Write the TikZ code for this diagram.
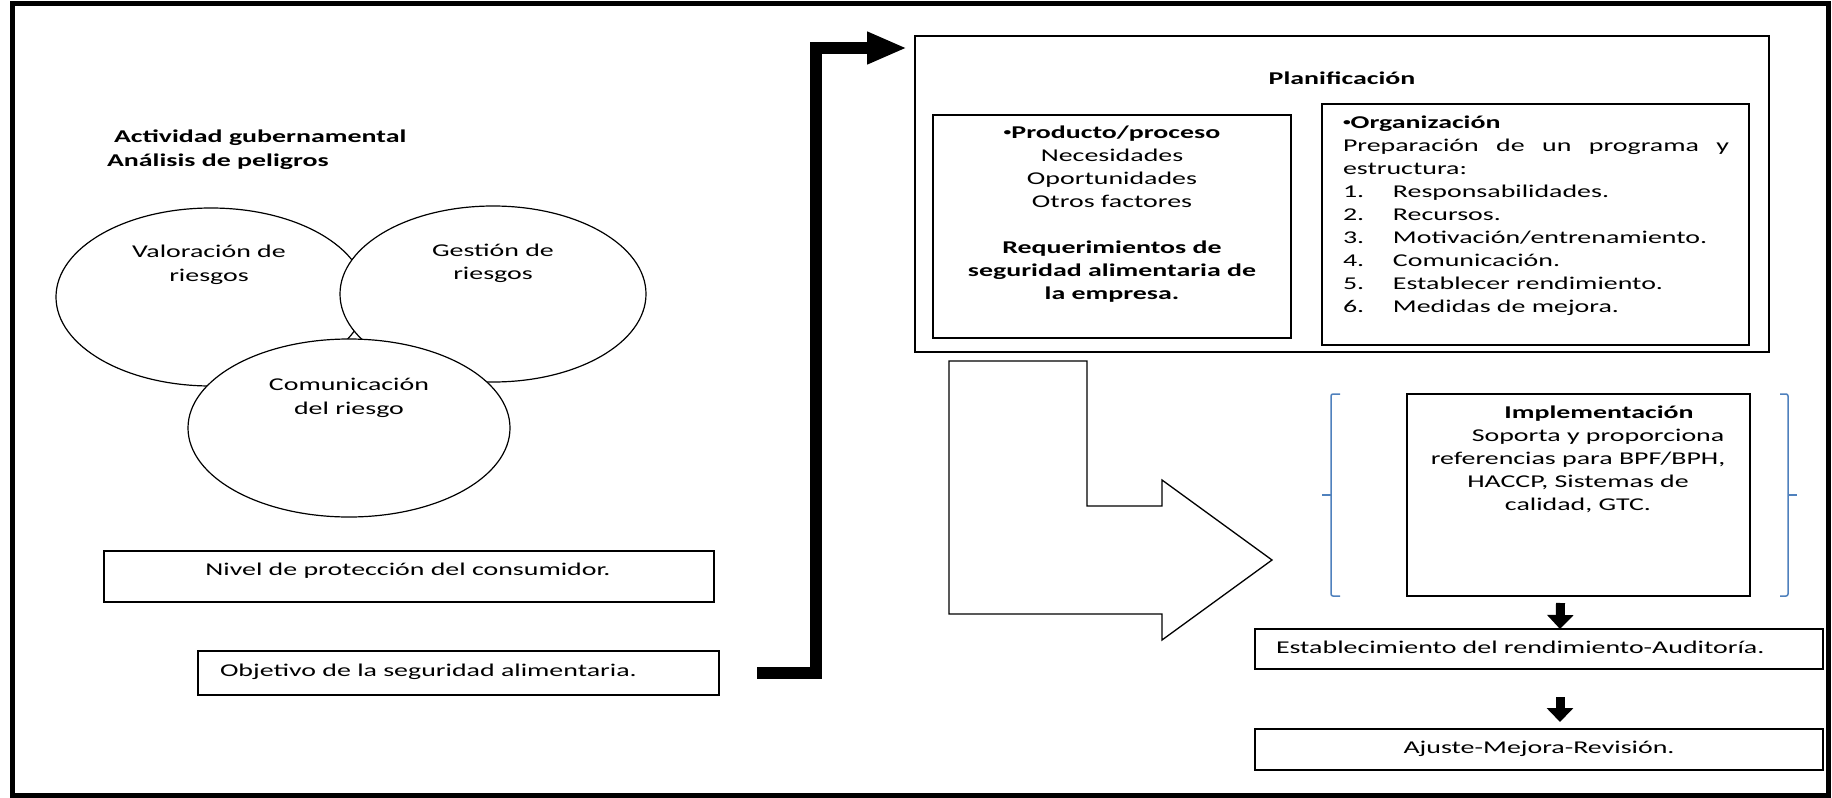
\documentclass[tikz,border=0pt]{standalone}
\usepackage{fontspec}
\setmainfont{Carlito}[FakeStretch=1.55]
\usetikzlibrary{shapes.geometric,arrows.meta,calc}
\definecolor{bracketblue}{HTML}{4F81BD}
\newcommand{\smallbullet}{\raisebox{2.6pt}{\fontsize{10}{12}\selectfont •}}
\tikzset{
  txt/.style={inner sep=0pt, outer sep=0pt, font=\fontsize{18}{23}\selectfont},
  boxed/.style={draw, line width=1.3pt, inner sep=0pt, outer sep=0pt, anchor=north west},
  circ/.style={ellipse, draw, fill=white, line width=1.2pt, inner sep=0pt},
  frame/.style={line width=5pt},
  bigarrow/.style={line width=12pt, line join=miter, -{Triangle[length=40pt,width=30pt]}},
  dnarrow/.style={line width=9pt, -{Triangle[length=14pt,width=26pt]}},
  bracket/.style={draw=bracketblue, line width=1.5pt, rounded corners=2pt}
}
\begin{document}
\begin{tikzpicture}[x=1pt, y=-1pt]
\useasboundingbox (0,0) rectangle (1832,798);
\fill[white] (0,0) rectangle (1832,798);

% outer frame
\draw[frame] (12,3) rectangle (1828,795);

% ---------- risk analysis (left part) ----------
\node[txt, anchor=north west, align=left, font=\fontsize{18}{24}\selectfont\bfseries] (titulo) at (107,126)
  {\strut\hspace*{7pt}Actividad gubernamental\\Análisis de peligros};

\node[circ, minimum width=310pt, minimum height=178pt] (valor) at (211,297) {};
\node[circ, minimum width=306pt, minimum height=176pt] (gestion) at (493,294) {};
\node[circ, minimum width=322pt, minimum height=178pt] (comun) at (349,428) {};

\node[txt, anchor=north, align=center, font=\fontsize{18}{24.5}\selectfont] (valort) at (209,240) {\strut Valoración de\\riesgos};
\node[txt, anchor=north, align=center, font=\fontsize{18}{22.5}\selectfont] (gestiont) at (493,241) {\strut Gestión de\\riesgos};
\node[txt, anchor=north, align=center, font=\fontsize{18}{24}\selectfont] (comunt) at (349,374) {\strut Comunicación\\del riesgo};

\node[boxed, minimum width=610pt, minimum height=51pt] (nivel) at (104,551) {};
\node[txt, anchor=north] (nivelt) at (408,559) {\strut Nivel de protección del consumidor.};

\node[boxed, minimum width=521pt, minimum height=44pt] (objetivo) at (198,651) {};
\node[txt, anchor=north west] (objetivot) at (220,660) {\strut Objetivo de la seguridad alimentaria.};

% ---------- planning block ----------
\node[boxed, minimum width=854pt, minimum height=316pt] (planif) at (915,36) {};
\node[txt, anchor=north, font=\fontsize{18}{23}\selectfont\bfseries] (planift) at (1342,68) {\strut Planificación};

\node[boxed, minimum width=358pt, minimum height=223pt] (producto) at (933,115) {};
\node[txt, anchor=north, align=center] (productot) at (1112,122)
  {\strut\textbf{\smallbullet Producto/proceso}\\Necesidades\\Oportunidades\\Otros factores\\[23pt]
   \textbf{Requerimientos de}\\\textbf{seguridad alimentaria de}\\\textbf{la empresa.}};

\node[boxed, minimum width=427pt, minimum height=241pt] (organiz) at (1322,104) {};
\node[txt, anchor=north west, align=left] (organizt) at (1343,112)
  {\strut\textbf{\smallbullet Organización}\\
   \makebox[386pt][s]{Preparación de un programa y}\\
   estructura:\\
   \makebox[50pt][l]{1.}Responsabilidades.\\
   \makebox[50pt][l]{2.}Recursos.\\
   \makebox[50pt][l]{3.}Motivación/entrenamiento.\\
   \makebox[50pt][l]{4.}Comunicación.\\
   \makebox[50pt][l]{5.}Establecer rendimiento.\\
   \makebox[50pt][l]{6.}Medidas de mejora.};

% thick connector from the objective to the planning block
\coordinate (codo) at (816,48);
\draw[bigarrow] ($(objetivo.east)+(38pt,0)$) -| (codo) -- ($(planif.north west)+(-8pt,-12pt)$);

% ---------- bent block arrow ----------
\draw[line width=1.3pt, line join=miter]
  (949,361) -- (1087,361) -- (1087,506) -- (1162,506) -- (1162,480) -- (1272,560)
  -- (1162,640) -- (1162,614) -- (949,614) -- cycle;

% ---------- implementation ----------
\draw[bracket] (1340,394) -- (1331,394) -- (1331,596) -- (1340,596);
\draw[bracketblue, line width=1.5pt] (1331,495) -- (1322,495);
\draw[bracket] (1780,394) -- (1788,394) -- (1788,596) -- (1780,596);
\draw[bracketblue, line width=1.5pt] (1788,495) -- (1797,495);

\node[boxed, minimum width=343pt, minimum height=202pt] (impl) at (1407,394) {};
\node[txt, anchor=north, align=center] (implt) at (1578,402)
  {\strut\hspace*{42pt}\textbf{Implementación}\\
   \hspace*{40pt}Soporta y proporciona\\
   referencias para BPF/BPH,\\
   HACCP, Sistemas de\\
   calidad, GTC.};

\node[boxed, minimum width=568pt, minimum height=40pt] (estab) at (1255,629) {};
\node[txt, anchor=north west] (estabt) at (1276,637) {\strut Establecimiento del rendimiento-Auditoría.};

\node[boxed, minimum width=568pt, minimum height=41pt] (ajuste) at (1255,729) {};
\node[txt, anchor=north] (ajustet) at (1539,737) {\strut Ajuste-Mejora-Revisión.};

\draw[dnarrow] ([xshift=-18pt,yshift=-7pt]impl.south) -- ([xshift=21pt]estab.north);
\draw[dnarrow] ([xshift=21pt,yshift=-28pt]estab.south) -- ([xshift=21pt,yshift=7pt]ajuste.north);
\end{tikzpicture}
\end{document}
